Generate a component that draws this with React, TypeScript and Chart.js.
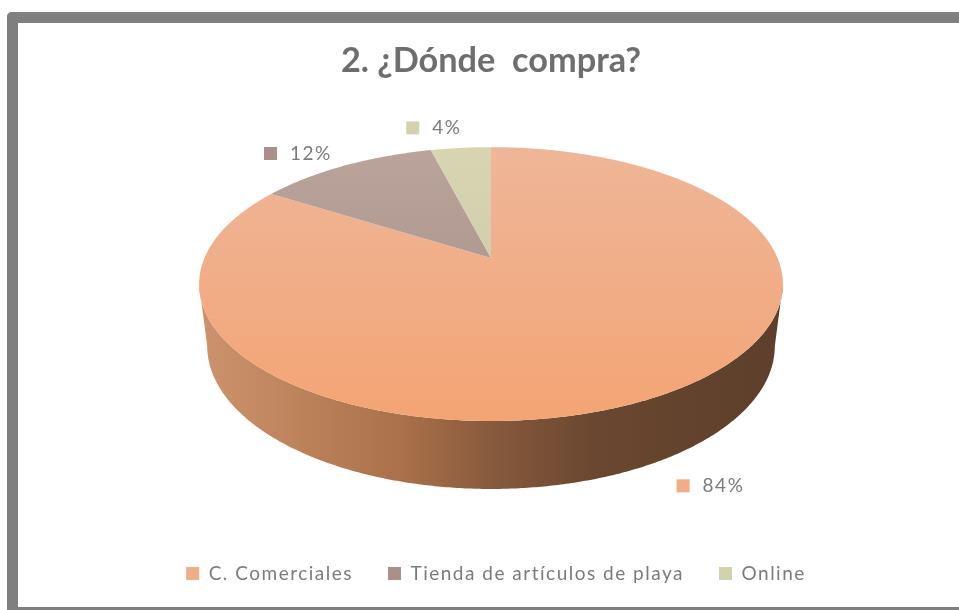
import React, { useEffect, useRef } from "react";
import { Chart, registerables, ArcElement, PieController } from "chart.js";

const titleText = "2. ¿Dónde  compra?";
const categories = ["C. Comerciales", "Tienda de artículos de playa", "Online"];
const shares = [84, 12, 4];
const swatchColors = ["#f0ae86", "#ab8f8a", "#d4d2ac"];
const topGradientStops = [
  ["#eeb698", "#f4a474"],
  ["#bba49b", "#a38b83"],
  ["#d8d5b2", "#c8c6a0"],
];
const wallStops: [number, string][] = [
  [0, "#cc926d"],
  [0.17, "#bc835b"],
  [0.35, "#a97049"],
  [0.5, "#875a3d"],
  [0.68, "#6a4730"],
  [1, "#5d3f2b"],
];

// Perspective of the disc, as ratios of the pie radius.
const PERSPECTIVE = 0.1898;
const WIDTH_RATIO = 2.171;
const APEX_SHIFT = -47 / 132;
const LOWER_DROP = 0.666;
const LOWER_RX = 2.15;
const LOWER_RY = 1.083;
const LETTER_SPACING = "1.5px";
const LEGEND_NUDGE = 5;
const labelOffsets = [
  [26.5, 89],
  [-74.5, -12],
  [-48, -20],
];

type Geo = { x: number; y: number; R: number };
const rim = (g: Geo, t: number): [number, number] => {
  const u = Math.cos(t);
  const v = Math.sin(t);
  const d = 1 - PERSPECTIVE * v;
  return [g.x + (WIDTH_RATIO * g.R * u) / d, g.y + (g.R * v) / d];
};
const geoOf = (el: any): Geo => ({
  x: el.x,
  y: el.y + APEX_SHIFT * el.outerRadius,
  R: el.outerRadius,
});

class Arc3D extends ArcElement {
  static id = "arc3d";
  draw(ctx: CanvasRenderingContext2D) {
    const self = this as any;
    const g = geoOf(self);
    const step = Math.PI / 360;
    const front0 = Math.asin(PERSPECTIVE);
    const front1 = Math.PI - front0;
    const frontTop: [number, number][] = [];
    const frontLow: [number, number][] = [];
    const yLow = g.y + LOWER_DROP * g.R;
    for (let t = self.startAngle; t <= self.endAngle + 1e-6; t += step) {
      if (t >= front0 && t <= front1) {
        const phi = ((t - front0) / (front1 - front0)) * Math.PI;
        frontTop.push(rim(g, t));
        frontLow.push([g.x + LOWER_RX * g.R * Math.cos(phi), yLow + LOWER_RY * g.R * Math.sin(phi)]);
      }
    }
    ctx.save();
    if (frontTop.length > 1) {
      const left = g.x - WIDTH_RATIO * g.R;
      const right = g.x + WIDTH_RATIO * g.R;
      const wall = ctx.createLinearGradient(left, 0, right, 0);
      wallStops.forEach(([o, c]) => wall.addColorStop(o, c));
      ctx.beginPath();
      frontTop.forEach(([a, b], i) => (i ? ctx.lineTo(a, b) : ctx.moveTo(a, b)));
      frontLow.reverse().forEach(([a, b]) => ctx.lineTo(a, b));
      ctx.closePath();
      ctx.fillStyle = wall;
      ctx.fill();
    }
    ctx.beginPath();
    ctx.moveTo(g.x, g.y);
    for (let t = self.startAngle; t < self.endAngle; t += step) {
      const [a, b] = rim(g, t);
      ctx.lineTo(a, b);
    }
    const [ea, eb] = rim(g, self.endAngle);
    ctx.lineTo(ea, eb);
    ctx.closePath();
    ctx.fillStyle = self.options.backgroundColor;
    ctx.fill();
    ctx.restore();
  }
}

class Pie3D extends PieController {
  static id = "pie3d";
  static defaults = { ...PieController.defaults, dataElementType: "arc3d" };
}

Chart.register(...registerables, Arc3D, Pie3D);

const spacedLegend = {
  id: "spacedLegend",
  beforeLayout(chart: any) {
    const legend = chart.legend;
    if (!legend || legend.__spaced) return;
    legend.__spaced = true;
    const { ctx } = chart;
    const fit = legend.fit;
    const draw = legend.draw;
    legend.fit = function () {
      ctx.letterSpacing = LETTER_SPACING;
      fit.call(this);
      ctx.letterSpacing = "0px";
    };
    legend.draw = function () {
      ctx.save();
      ctx.letterSpacing = LETTER_SPACING;
      ctx.translate(LEGEND_NUDGE, 0);
      draw.call(this);
      ctx.restore();
      ctx.letterSpacing = "0px";
    };
  },
};

const shareLabels = {
  id: "shareLabels",
  afterDatasetsDraw(chart: any) {
    const { ctx } = chart;
    const values = chart.data.datasets[0].data;
    chart.getDatasetMeta(0).data.forEach((el: any, i: number) => {
      const [px, py] = rim(geoOf(el), (el.startAngle + el.endAngle) / 2);
      const x = px + labelOffsets[i][0];
      const y = py + labelOffsets[i][1];
      ctx.save();
      ctx.fillStyle = swatchColors[i];
      ctx.fillRect(x - 6.5, y - 6.5, 13, 13);
      ctx.fillStyle = "#7b7b7b";
      ctx.font = "19px Lato";
      ctx.letterSpacing = LETTER_SPACING;
      ctx.textAlign = "left";
      ctx.textBaseline = "middle";
      ctx.fillText(`${values[i]}%`, x + 19.5, y);
      ctx.letterSpacing = "0px";
      ctx.restore();
    });
  },
};

export default function App() {
  const ref = useRef<HTMLCanvasElement>(null);
  useEffect(() => {
    document.body.style.margin = "0";
    document.body.style.overflow = "hidden";
    const canvas = ref.current!;
    const chart = new Chart(canvas, {
      type: "pie3d" as any,
      data: {
        labels: categories,
        datasets: [
          {
            data: shares,
            radius: 132,
            borderWidth: 0,
            backgroundColor: (c: any) => {
              const el = c.chart.chartArea;
              if (!el) return swatchColors[c.dataIndex];
              const cy = (el.top + el.bottom) / 2 + APEX_SHIFT * 132;
              const grad = c.chart.ctx.createLinearGradient(0, cy - 111, 0, cy + 163);
              const stops = topGradientStops[c.dataIndex];
              grad.addColorStop(0, stops[0]);
              grad.addColorStop(1, stops[1]);
              return grad;
            },
          } as any,
        ],
      },
      options: {
        responsive: false,
        animation: false,
        layout: { padding: { left: 23, right: 0, top: 0, bottom: 17 } },
        plugins: {
          title: {
            display: true,
            text: titleText,
            color: "#6e6e6e",
            font: { family: "Lato", size: 34.3, weight: "bold" },
            padding: { top: 40, bottom: 0 },
          },
          legend: {
            position: "bottom",
            labels: {
              boxWidth: 13,
              boxHeight: 13,
              padding: 35,
              color: "#7b7b7b",
              font: { family: "Lato", size: 19 },
              generateLabels: () =>
                categories.map((text, i) => ({
                  text,
                  fillStyle: swatchColors[i],
                  strokeStyle: swatchColors[i],
                  lineWidth: 0,
                  fontColor: "#7b7b7b",
                  index: i,
                })),
            },
          },
          tooltip: { enabled: false },
        },
      },
      plugins: [spacedLegend, shareLabels],
    } as any);
    return () => chart.destroy();
  }, []);
  return (
    <div style={{ position: "absolute", left: 0, top: 0, width: 959, height: 610, overflow: "hidden", background: "#fff" }}>
      <div
        style={{
          position: "absolute",
          left: 7,
          top: 12,
          width: 1000,
          height: 700,
          boxSizing: "border-box",
          borderLeft: "11px solid #7f7f7f",
          borderTop: "11px solid #7f7f7f",
          borderTopLeftRadius: 5,
        }}
      />
      <div style={{ position: "absolute", left: 7, top: 607, width: 952, height: 3, background: "#7f7f7f" }} />
      <canvas ref={ref} width={959} height={610} style={{ position: "absolute", left: 0, top: 0, display: "block" }} />
    </div>
  );
}
